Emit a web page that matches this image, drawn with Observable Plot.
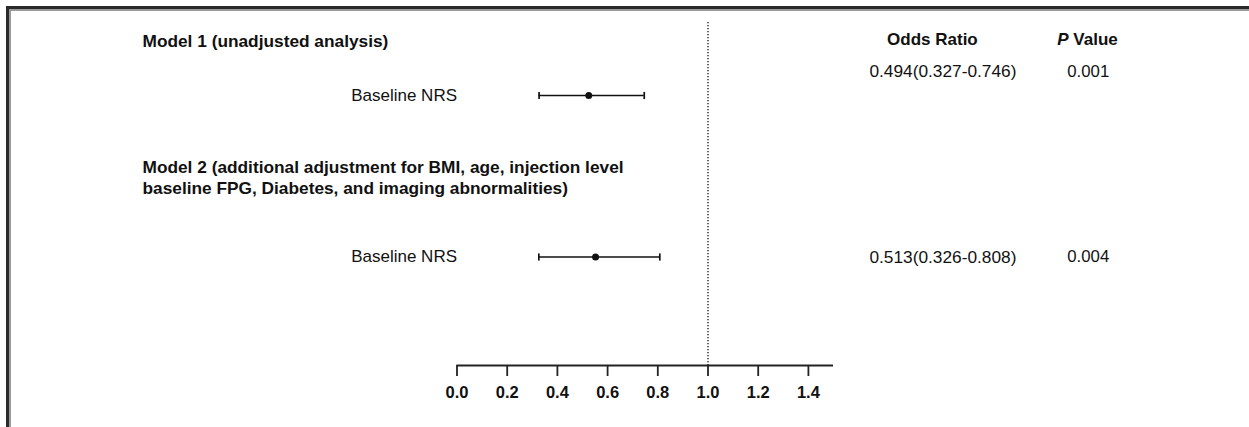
<!DOCTYPE html>
<html>
<head>
<meta charset="utf-8">
<script src="https://cdn.jsdelivr.net/npm/d3@7"></script>
<script src="https://cdn.jsdelivr.net/npm/@observablehq/plot@0.6"></script>
<style>
  html, body { margin: 0; padding: 0; background: #fff; }
  #wrap { position: relative; width: 1249px; height: 427px; overflow: hidden; }
  #wrap svg { display: block; }
  .frameOuter { position: absolute; left: 6px; top: 6px; right: -10px; bottom: -10px;
    border-top: 3px solid #2a2a2a; border-left: 3px solid #2a2a2a; pointer-events: none; }
  .frameInner { position: absolute; left: 9px; top: 9px; width: 1238px; bottom: -10px;
    border-top: 2px solid #9a9a9a; border-left: 2px solid #9a9a9a; border-right: 1px solid #9a9a9a; pointer-events: none; }
</style>
</head>
<body>
<div id="wrap">
  <div id="chart"></div>
  <div class="frameOuter"></div>
  <div class="frameInner"></div>
</div>
<script>
// ---- data ----
const models = [
  "Model 1 (unadjusted analysis)",
  "Model 2 (additional adjustment for BMI, age, injection level\nbaseline FPG, Diabetes, and imaging abnormalities)"
];
const variables = ["Baseline NRS", "Baseline NRS"];
const pointEstimates = [0.525, 0.552];      // where the dots are drawn
const ciLow = [0.327, 0.326];
const ciHigh = [0.746, 0.808];
const orLabels = ["0.494(0.327-0.746)", "0.513(0.326-0.808)"];
const pLabels = ["0.001", "0.004"];
const columnHeaders = ["Odds Ratio", "P Value"];
const xTicks = [0, 0.2, 0.4, 0.6, 0.8, 1.0, 1.2, 1.4];
const referenceLine = [1];

// ---- layout (in scale units) ----
const yTop = 0, yAxis = 343;
const headerRowY = [17.5, 154.5];
const estimateRowY = [73, 234.5];
const statRowY = [49, 234.5];
const columnHeaderY = 17.5;
const headerColX = -1.253, labelColX = 0, orColX = 1.936, pColX = 2.515;
const headerColsX = [1.894, 2.512];

const rows = models.map((m, i) => ({
  model: m, variable: variables[i], est: pointEstimates[i], lo: ciLow[i], hi: ciHigh[i],
  or: orLabels[i], p: pLabels[i], headY: headerRowY[i], rowY: estimateRowY[i], statY: statRowY[i]
}));
const caps = rows.flatMap(r => [{x: r.lo, y: r.rowY}, {x: r.hi, y: r.rowY}]);
const capSymbol = {
  draw(ctx, size) { const h = Math.sqrt(size / Math.PI); ctx.moveTo(0, -h); ctx.lineTo(0, h); }
};
const ink = "#111";

const chart = Plot.plot({
  width: 1249, height: 427,
  marginLeft: 456.5, marginRight: 416, marginTop: 22, marginBottom: 62,
  x: {domain: [0, 1.5]},
  y: {domain: [yTop, yAxis], reverse: true, axis: null},
  style: {fontFamily: "'Liberation Sans', Arial, sans-serif", color: ink, background: "transparent", overflow: "visible"},
  marks: [
    Plot.ruleX(referenceLine, {y1: () => yTop, y2: () => yAxis, stroke: "#222", strokeWidth: 1.4, strokeDasharray: "1.3,1.7"}),
    Plot.ruleY([yAxis], {x1: () => 0, x2: () => 1.5, stroke: "#222", strokeWidth: 1.8}),
    Plot.axisX({ticks: xTicks, tickSize: 11, tickPadding: 10, tickFormat: d3.format(".1f"),
      fontSize: 16.5, fontWeight: "bold", stroke: "#222", strokeWidth: 1.8, label: null}),
    Plot.ruleY(rows, {x1: "lo", x2: "hi", y: "rowY", stroke: ink, strokeWidth: 1.7}),
    Plot.dot(caps, {x: "x", y: "y", symbol: capSymbol, r: 3.6, stroke: ink, strokeWidth: 1.7, fill: "none"}),
    Plot.dot(rows, {x: "est", y: "rowY", r: 3.5, fill: ink, stroke: "none"}),
    Plot.text(rows, {x: () => headerColX, y: "headY", text: "model", textAnchor: "start",
      fontWeight: "bold", fontSize: 17.3, lineHeight: 1.21, fill: ink}),
    Plot.text(rows, {x: () => labelColX, y: "rowY", text: "variable", textAnchor: "end", fontSize: 17, fill: ink}),
    Plot.text(rows, {x: () => orColX, y: "statY", text: "or", fontSize: 17.3, fill: ink}),
    Plot.text(rows, {x: () => pColX, y: "statY", text: "p", fontSize: 16.8, fill: ink}),
    Plot.text(columnHeaders, {x: (d, i) => headerColsX[i], y: () => columnHeaderY, text: d => d,
      fontWeight: "bold", fontSize: 17, fill: ink})
  ]
});
document.getElementById("chart").appendChild(chart);

// italic "P" in the P Value header
d3.select(chart).selectAll("text").each(function() {
  if (this.textContent === "P Value") {
    const t = d3.select(this);
    t.text(null);
    t.append("tspan").attr("font-style", "italic").text("P");
    t.append("tspan").text(" Value");
  }
});
</script>
</body>
</html>
